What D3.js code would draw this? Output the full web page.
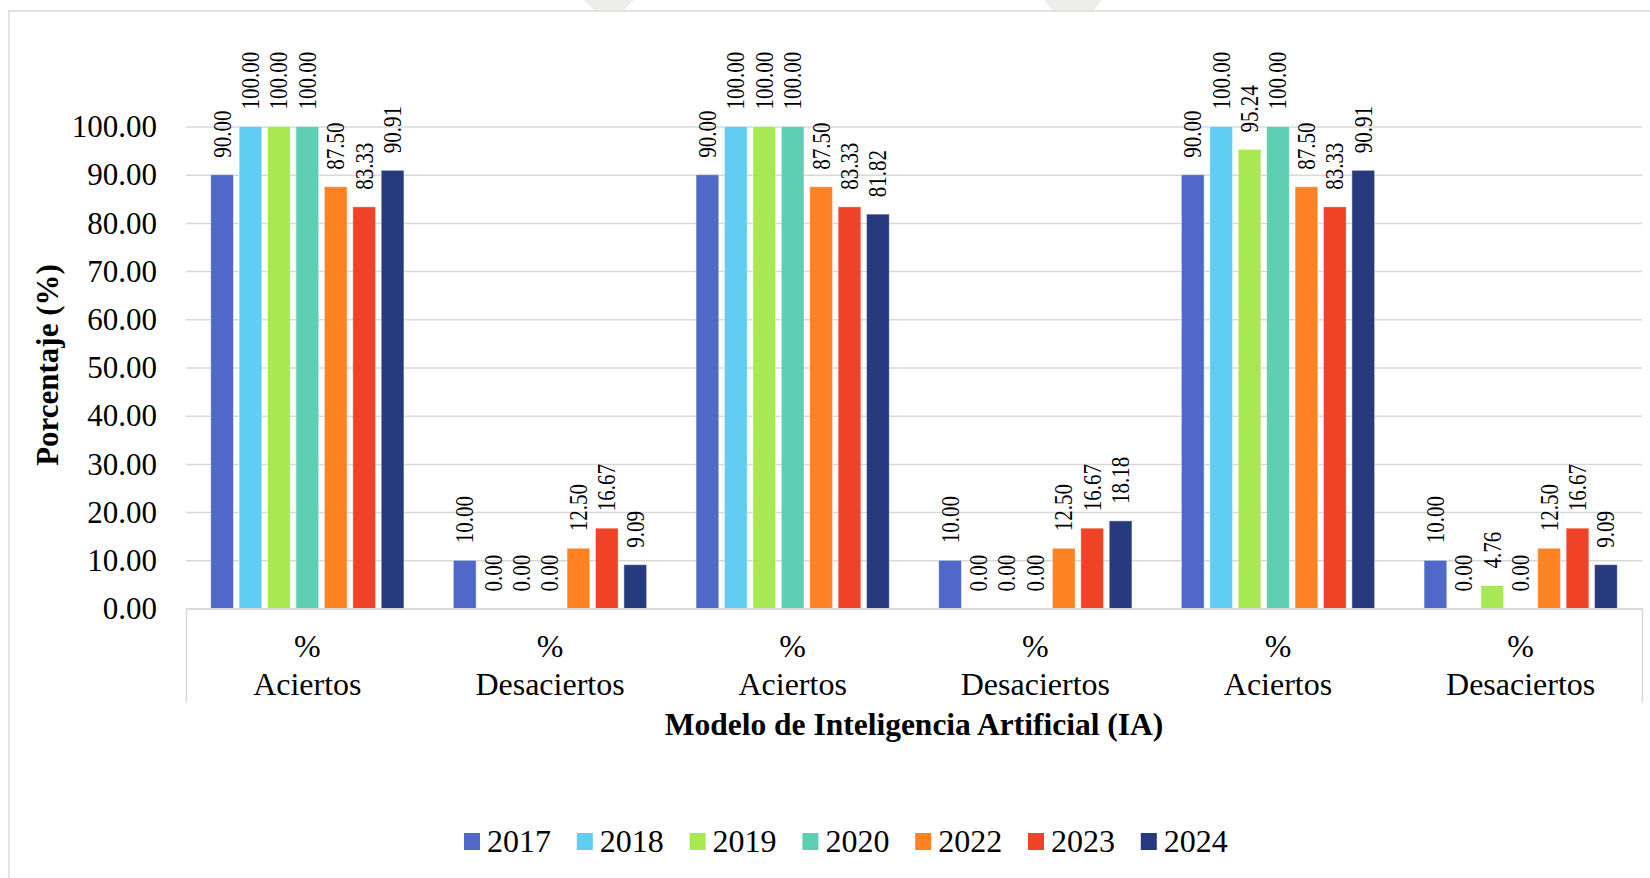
<!DOCTYPE html>
<html>
<head>
<meta charset="utf-8">
<script src="https://cdn.jsdelivr.net/npm/d3@7"></script>
<style>
  html, body { margin: 0; padding: 0; background: #fff; }
  svg { display: block; }
  svg text { font-family: "Liberation Serif", "Times New Roman", serif !important; fill: #000; }
</style>
</head>
<body>
<svg id="chart" width="1650" height="878"></svg>
<script>
// ---- Data ----
const categoryTop = ["%", "%", "%", "%", "%", "%"];
const categoryBottom = ["Aciertos", "Desaciertos", "Aciertos", "Desaciertos", "Aciertos", "Desaciertos"];
const years = ["2017", "2018", "2019", "2020", "2022", "2023", "2024"];
const v2017 = [90.00, 10.00, 90.00, 10.00, 90.00, 10.00];
const v2018 = [100.00, 0.00, 100.00, 0.00, 100.00, 0.00];
const v2019 = [100.00, 0.00, 100.00, 0.00, 95.24, 4.76];
const v2020 = [100.00, 0.00, 100.00, 0.00, 100.00, 0.00];
const v2022 = [87.50, 12.50, 87.50, 12.50, 87.50, 12.50];
const v2023 = [83.33, 16.67, 83.33, 16.67, 83.33, 16.67];
const v2024 = [90.91, 9.09, 81.82, 18.18, 90.91, 9.09];
const yTicks = [0, 10, 20, 30, 40, 50, 60, 70, 80, 90, 100];
const colors = ["#5068C8", "#62CDF2", "#A8E852", "#5ECFB2", "#FE8222", "#EF4226", "#283A7E"];
const yTitle = "Porcentaje (%)";
const xTitle = "Modelo de Inteligencia Artificial (IA)";

const seriesValues = [v2017, v2018, v2019, v2020, v2022, v2023, v2024];
const series = years.map((y, i) => ({ year: y, values: seriesValues[i], color: colors[i] }));

// ---- Layout ----
const FONT = "Liberation Serif, Times New Roman, serif";
const svg = d3.select("#chart");
const plotL = 186, plotR = 1642, plotT = 126.5, plotB = 608.5, axisBoxB = 702;

svg.append("rect").attr("width", 1650).attr("height", 878).attr("fill", "#fff");

// faint watermark pieces above frame
svg.append("path").attr("d", "M584,0 L634,0 L624,10 L594,10 Z").attr("fill", "#eceeea");
svg.append("path").attr("d", "M1044,0 L1102,0 L1094,10 L1052,10 Z").attr("fill", "#eceeea");

// outer frame
svg.append("rect").attr("x", 9).attr("y", 11).attr("width", 1700).attr("height", 1000)
  .attr("fill", "none").attr("stroke", "#d9d9d9").attr("stroke-width", 1.5);

const idx = d3.range(categoryBottom.length);
const x0 = d3.scaleBand().domain(idx).range([plotL, plotR]).padding(0);
const x1 = d3.scaleBand().domain(years).range([0, x0.bandwidth()]).paddingInner(0.2).paddingOuter(0.87);
const y = d3.scaleLinear().domain([0, 100]).range([plotB, plotT]);

// y axis with gridlines
const yAxis = svg.append("g").attr("transform", `translate(${plotL},0)`)
  .call(d3.axisLeft(y).tickValues(yTicks).tickFormat(d3.format(".2f"))
    .tickSize(-(plotR - plotL)).tickPadding(29));
yAxis.attr("font-family", FONT);
yAxis.select(".domain").remove();
yAxis.selectAll(".tick line").attr("stroke", "#d9d9d9").attr("stroke-width", 1.5);
yAxis.selectAll(".tick text").attr("font-size", 31).attr("font-family", FONT).attr("fill", "#000")
  .attr("dy", "0.33em");

// bars
const groups = svg.append("g").selectAll("g").data(series).join("g").attr("fill", d => d.color);
groups.selectAll("rect").data(d => d.values.map((v, i) => ({ v, i, year: d.year })))
  .join("rect")
  .attr("x", d => x0(d.i) + x1(d.year))
  .attr("y", d => y(d.v))
  .attr("width", x1.bandwidth())
  .attr("height", d => y(0) - y(d.v))
  .attr("stroke", "rgba(255,255,255,0.45)").attr("stroke-width", 1);

// data labels
const labels = svg.append("g").attr("font-family", FONT);
series.forEach(s => {
  s.values.forEach((v, i) => {
    const cx = x0(i) + x1(s.year) + x1.bandwidth() / 2;
    labels.append("text")
      .attr("transform", `translate(${cx},${y(v) - 17}) rotate(-90) scale(1,1.15)`)
      .attr("text-anchor", "start")
      .attr("dy", "0.35em")
      .attr("font-family", FONT)
      .attr("font-size", 21)
      .text(d3.format(".2f")(v));
  });
});

// x axis (category box)
const xAxis = svg.append("g").attr("transform", `translate(0,${plotB})`)
  .call(d3.axisBottom(x0).tickSize(0).tickSizeOuter(axisBoxB - plotB).tickFormat(() => ""));
xAxis.attr("font-family", FONT);
xAxis.select(".domain").attr("stroke", "#d9d9d9").attr("stroke-width", 1.5);
xAxis.selectAll(".tick text").each(function(d) {
  const t = d3.select(this);
  t.attr("y", null).attr("dy", null).attr("font-size", 32).attr("fill", "#000")
    .attr("font-family", FONT);
  t.append("tspan").attr("x", 0).attr("y", 657 - plotB).text(categoryTop[d]);
  t.append("tspan").attr("x", 0).attr("y", 695 - plotB).text(categoryBottom[d]);
});

// axis titles
svg.append("text").attr("x", (plotL + plotR) / 2).attr("y", 735)
  .attr("text-anchor", "middle").attr("font-family", FONT).attr("font-size", 31.5)
  .attr("font-weight", "bold").text(xTitle);
svg.append("text").attr("transform", "translate(47,365) rotate(-90)")
  .attr("text-anchor", "middle").attr("dy", "0.35em").attr("font-family", FONT)
  .attr("font-size", 31).attr("font-weight", "bold").text(yTitle);

// legend
const legend = svg.append("g").attr("font-family", FONT).selectAll("g").data(series).join("g")
  .attr("transform", (d, i) => `translate(${464 + i * 112.8},0)`);
legend.append("rect").attr("x", 0).attr("y", 833).attr("width", 16).attr("height", 17).attr("fill", d => d.color);
legend.append("text").attr("x", 23).attr("y", 852).attr("font-family", FONT).attr("font-size", 32).text(d => d.year);
</script>
</body>
</html>
